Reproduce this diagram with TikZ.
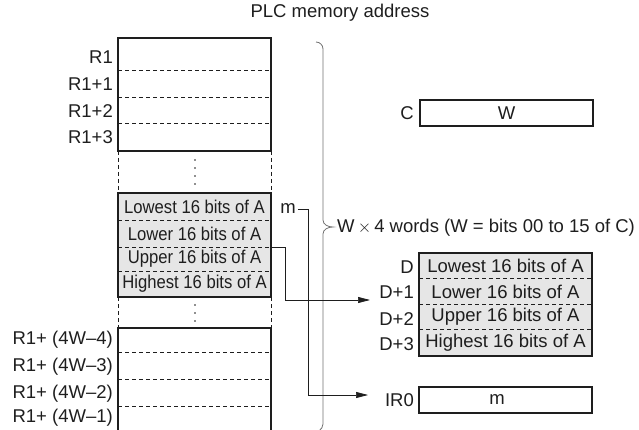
\documentclass[tikz,border=0pt]{standalone}
\usepackage{fontspec}
\setmainfont{Liberation Sans}
\newfontfamily\narrowfont[FakeStretch=0.9]{Liberation Sans}
\usetikzlibrary{arrows.meta}
\definecolor{ink}{HTML}{1E1E1E}
\definecolor{cellgray}{HTML}{E6E6E6}
\definecolor{bracegray}{HTML}{707070}
\begin{document}
\begin{tikzpicture}[x=1pt,y=-1pt,
  txt/.style={font=\fontsize{18.5}{20}\selectfont, text=ink, inner sep=0pt},
  ntxt/.style={font=\narrowfont\fontsize{18.5}{20}\selectfont, text=ink, inner sep=0pt},
  lbl/.style={txt, anchor=east},
  frame/.style={draw=ink, line width=1.7pt},
  sep/.style={draw=ink, line width=0.8pt, dash pattern=on 4pt off 3pt},
  cellbox/.style={txt, minimum width=173pt, minimum height=26pt},
  conn/.style={draw=ink, line width=0.7pt},
  arr/.style={conn, -{Triangle[length=12pt,width=6pt]}}
]
\useasboundingbox (0,0) rectangle (639,430);

% title
\node[txt] (title) at (340,13) {PLC memory address};

% ---- main memory column ----
% top block
\draw[frame] (118,151) -- (118,38) -- (271,38) -- (271,151) -- cycle;
\foreach \y in {70,97,123} \draw[sep] (118,\y) -- (271,\y);
\draw[sep] (118,151) -- (118,193);
\draw[sep] (271,151) -- (271,193);
\foreach \y in {160,168,176,184} \fill[ink] (195,\y) circle (0.9pt);

% gray block
\fill[cellgray] (118,193) rectangle (271,297);
\foreach \y in {220,247,271} \draw[sep] (118,\y) -- (271,\y);
\draw[frame] (118,193) rectangle (271,297);
\node[ntxt] (a1) at (194.5,206.5) {Lowest 16 bits of A};
\node[ntxt] (a2) at (194.5,233.5) {Lower 16 bits of A};
\node[ntxt] (a3) at (194.5,259) {Upper 16 bits of A};
\node[ntxt] (a4) at (194.5,284) {Highest 16 bits of A};
\coordinate (a23) at (271,247);

\draw[sep] (118,297) -- (118,328);
\draw[sep] (271,297) -- (271,328);
\foreach \y in {305,313,321} \fill[ink] (195,\y) circle (0.9pt);

% bottom block
\draw[frame] (118,431) -- (118,328) -- (271,328) -- (271,431);
\foreach \y in {352,379,406} \draw[sep] (118,\y) -- (271,\y);

% left labels
\node[lbl] (r0) at (113,57) {R1};
\node[lbl] (r1) at (113,84) {R1+1};
\node[lbl] (r2) at (113,111) {R1+2};
\node[lbl] (r3) at (113,137) {R1+3};
\node[lbl] (q4) at (113,340) {R1+ (4W\textendash4)};
\node[lbl] (q3) at (113,367) {R1+ (4W\textendash3)};
\node[lbl] (q2) at (113,394) {R1+ (4W\textendash2)};
\node[lbl] (q1) at (113,418) {R1+ (4W\textendash1)};

% m label
\node[txt] (mlab) at (288,209) {m};

% brace
\draw[bracegray, line width=0.8pt]
  (316,42) to[out=0,in=90] (323,49) -- (323,220)
  to[out=-90,in=180] (333,227) to[out=180,in=90] (323,234)
  -- (323,424) to[out=-90,in=45] (319,431);
\node[txt, anchor=west] (wlab) at (337,228) {W\,$\times$\,4 words (W = bits 00 to 15 of C)};

% ---- C box ----
\node[cellbox, frame, fill=white] (cbox) at (506.5,113) {W};
\node[lbl] (clab) at (414,113) {C};

% ---- D box ----
\fill[cellgray] (419,253) rectangle (592,356);
\foreach \y in {278,304,329} \draw[sep] (419,\y) -- (592,\y);
\draw[frame] (419,253) rectangle (592,356);
\node[txt] (d0) at (505.5,266) {Lowest 16 bits of A};
\node[txt] (d1) at (505.5,292) {Lower 16 bits of A};
\node[txt] (d2) at (505.5,317) {Upper 16 bits of A};
\node[txt] (d3) at (505.5,343) {Highest 16 bits of A};
\node[lbl] (dl0) at (414,267) {D};
\node[lbl] (dl1) at (414,292) {D+1};
\node[lbl] (dl2) at (414,319) {D+2};
\node[lbl] (dl3) at (414,344) {D+3};
\coordinate (din) at (370,300);

% ---- IR0 box ----
\node[frame, minimum width=173pt, minimum height=26pt, inner sep=0pt] (irbox) at (505.5,400) {};
\node[txt] (irm) at (497,400) {m};
\node[lbl] (irlab) at (414,400) {IR0};
\coordinate (irin) at (368,395);

% connectors
\draw[arr] (a23) -| (285,300) -- (din);
\draw[arr] (mlab.east) ++(2,0) -| (308,395) -- (irin);
\end{tikzpicture}
\end{document}
